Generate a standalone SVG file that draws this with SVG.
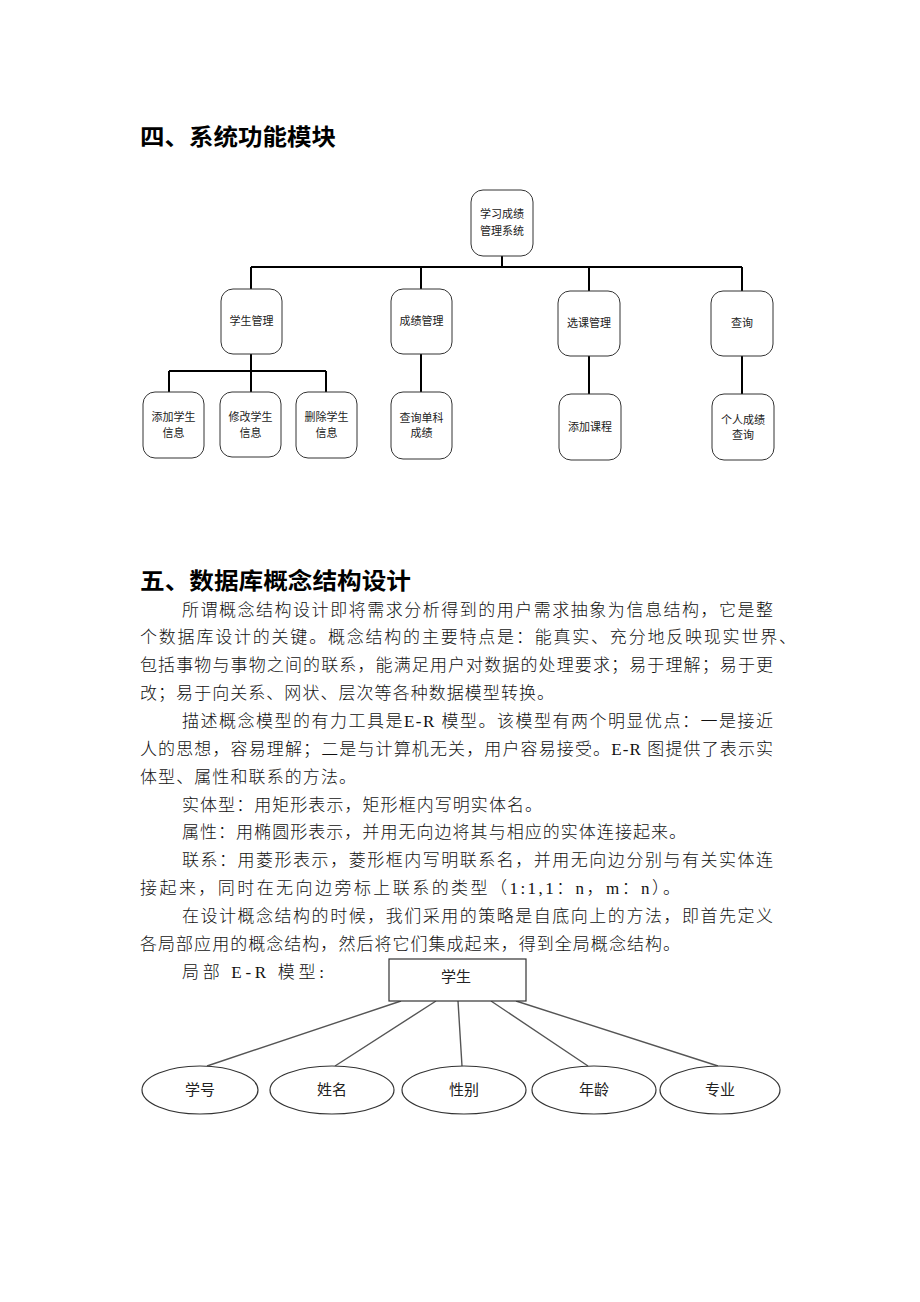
<svg xmlns="http://www.w3.org/2000/svg" width="920" height="1302" viewBox="0 0 920 1302">
<style>
.bg{fill:#fff}
.box{fill:#fff;stroke:#333;stroke-width:1}
.conn{stroke:#000;stroke-width:2;fill:none}
.nt{font-family:"Noto Sans CJK SC","Noto Sans",sans-serif;font-size:11px;fill:#222;text-anchor:middle}
.h{font-family:"Noto Sans CJK SC","Noto Sans",sans-serif;font-size:23px;font-weight:bold;fill:#000}
.p{font-family:"Liberation Serif","Noto Sans CJK SC",serif;font-size:17px;font-weight:300;fill:#111}
.erbox{fill:#fff;stroke:#333;stroke-width:1.2}
.erl{stroke:#555;stroke-width:1.4;fill:none}
.et{font-family:"Noto Sans CJK SC","Noto Sans",sans-serif;font-size:15px;fill:#222;text-anchor:middle}
</style>
<rect class="bg" x="0" y="0" width="920" height="1302"/>

<text class="h" x="140" y="145" textLength="196" lengthAdjust="spacingAndGlyphs">四、系统功能模块</text>

<g id="tree-connectors">
<path class="conn" d="M502 256V267M251 267H742M251 267V289M421 267V289M589 267V291M742 267V291"/>
<path class="conn" d="M251 354V371M169 371H326M169 371V392M251 371V392M326 371V392"/>
<path class="conn" d="M421 354V392M589 356V394M742 356V394"/>
</g>

<g id="n-root"><rect class="box" x="471" y="190" width="62" height="66" rx="12"/><text class="nt" x="502" y="218">学习成绩</text><text class="nt" x="502" y="235">管理系统</text></g>
<g id="n-student"><rect class="box" x="221" y="289" width="61" height="65" rx="12"/><text class="nt" x="251.5" y="325">学生管理</text></g>
<g id="n-score"><rect class="box" x="391" y="289" width="61" height="65" rx="12"/><text class="nt" x="421.5" y="325">成绩管理</text></g>
<g id="n-course"><rect class="box" x="558" y="291" width="62" height="65" rx="12"/><text class="nt" x="589" y="327">选课管理</text></g>
<g id="n-query"><rect class="box" x="711" y="291" width="62" height="65" rx="12"/><text class="nt" x="742" y="327">查询</text></g>
<g id="n-add-stu"><rect class="box" x="143" y="392" width="61" height="66" rx="12"/><text class="nt" x="173.5" y="421">添加学生</text><text class="nt" x="173.5" y="437">信息</text></g>
<g id="n-mod-stu"><rect class="box" x="220" y="392" width="61" height="65" rx="12"/><text class="nt" x="250.5" y="421">修改学生</text><text class="nt" x="250.5" y="437">信息</text></g>
<g id="n-del-stu"><rect class="box" x="296" y="392" width="61" height="66" rx="12"/><text class="nt" x="326.5" y="421">删除学生</text><text class="nt" x="326.5" y="437">信息</text></g>
<g id="n-q-single"><rect class="box" x="391" y="392" width="61" height="67" rx="12"/><text class="nt" x="421.5" y="422">查询单科</text><text class="nt" x="421.5" y="437">成绩</text></g>
<g id="n-add-course"><rect class="box" x="559" y="394" width="62" height="66" rx="12"/><text class="nt" x="590" y="431">添加课程</text></g>
<g id="n-personal"><rect class="box" x="712" y="394" width="62" height="66" rx="12"/><text class="nt" x="743" y="424">个人成绩</text><text class="nt" x="743" y="439">查询</text></g>

<text class="h" x="140" y="589" textLength="271" lengthAdjust="spacingAndGlyphs">五、数据库概念结构设计</text>

<g id="body-text">
<text class="p" x="182" y="615.5" textLength="591" lengthAdjust="spacing">所谓概念结构设计即将需求分析得到的用户需求抽象为信息结构，它是整</text>
<text class="p" x="140" y="643.4" textLength="656" lengthAdjust="spacing">个数据库设计的关键。概念结构的主要特点是：能真实、充分地反映现实世界、</text>
<text class="p" x="140" y="671.2" textLength="633" lengthAdjust="spacing">包括事物与事物之间的联系，能满足用户对数据的处理要求；易于理解；易于更</text>
<text class="p" x="140" y="699.1" textLength="414" lengthAdjust="spacing">改；易于向关系、网状、层次等各种数据模型转换。</text>
<text class="p" x="182" y="726.9" textLength="591" lengthAdjust="spacing">描述概念模型的有力工具是E-R 模型。该模型有两个明显优点：一是接近</text>
<text class="p" x="140" y="754.8" textLength="633" lengthAdjust="spacing">人的思想，容易理解；二是与计算机无关，用户容易接受。E-R 图提供了表示实</text>
<text class="p" x="140" y="782.6" textLength="216" lengthAdjust="spacing">体型、属性和联系的方法。</text>
<text class="p" x="182" y="810.5" textLength="360" lengthAdjust="spacing">实体型：用矩形表示，矩形框内写明实体名。</text>
<text class="p" x="182" y="838.3" textLength="504" lengthAdjust="spacing">属性：用椭圆形表示，并用无向边将其与相应的实体连接起来。</text>
<text class="p" x="182" y="866.2" textLength="591" lengthAdjust="spacing">联系：用菱形表示，菱形框内写明联系名，并用无向边分别与有关实体连</text>
<text class="p" x="140" y="894" textLength="540" lengthAdjust="spacing">接起来，同时在无向边旁标上联系的类型（1:1,1：n，m：n）。</text>
<text class="p" x="182" y="921.9" textLength="591" lengthAdjust="spacing">在设计概念结构的时候，我们采用的策略是自底向上的方法，即首先定义</text>
<text class="p" x="140" y="949.7" textLength="540" lengthAdjust="spacing">各局部应用的概念结构，然后将它们集成起来，得到全局概念结构。</text>
<text class="p" x="182" y="977.6" textLength="142" lengthAdjust="spacing">局部 E-R 模型:</text>
</g>

<g id="er-connectors">
<path class="erl" d="M401 1001L207 1066M436 1001L335 1066M458 1001L462 1066M491 1001L588 1066M516 1001L718 1066"/>
</g>
<g id="e-student"><rect class="erbox" x="389" y="959" width="137" height="42"/><text class="et" x="456" y="982">学生</text></g>
<g id="a-id"><ellipse class="erbox" cx="200" cy="1090" rx="58" ry="24"/><text class="et" x="200" y="1095">学号</text></g>
<g id="a-name"><ellipse class="erbox" cx="332" cy="1090" rx="62" ry="24"/><text class="et" x="332" y="1095">姓名</text></g>
<g id="a-sex"><ellipse class="erbox" cx="464" cy="1090" rx="62" ry="24"/><text class="et" x="464" y="1095">性别</text></g>
<g id="a-age"><ellipse class="erbox" cx="594" cy="1090" rx="62" ry="24"/><text class="et" x="594" y="1095">年龄</text></g>
<g id="a-major"><ellipse class="erbox" cx="720" cy="1090" rx="60" ry="24"/><text class="et" x="720" y="1095">专业</text></g>
</svg>
